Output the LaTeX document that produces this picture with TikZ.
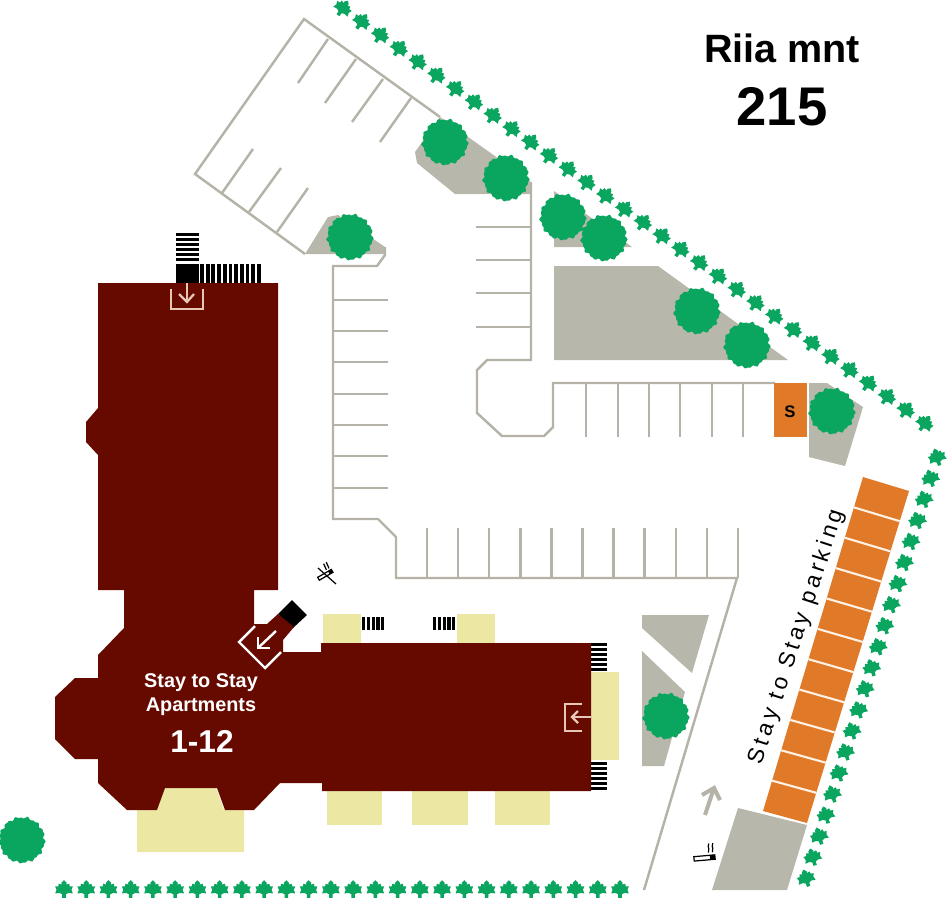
\documentclass[tikz,border=0pt]{standalone}
\usepackage{fontspec}
\setmainfont{Liberation Sans}
\newfontfamily\spacedfont[LetterSpace=17]{Liberation Sans}
\usetikzlibrary{calc}
\definecolor{brickred}{HTML}{660A00}
\definecolor{grassgray}{HTML}{B8B7AB}
\definecolor{roadgray}{HTML}{B5B3A8}
\definecolor{terraceyellow}{HTML}{ECE8A4}
\definecolor{parkorange}{HTML}{E07A28}
\definecolor{treegreen}{HTML}{0AA55F}
\definecolor{doorpink}{HTML}{E8C6B8}
\tikzset{
	grass/.style={fill=grassgray},
	roadline/.style={draw=roadgray,line width=1.4pt,line join=miter},
	terrace/.style={fill=terraceyellow},
	doorline/.style={draw=doorpink,line width=1.3pt},
	iconline/.style={draw=black,line width=.7pt},
	leaf/.pic={
		\fill[treegreen,scale=.88] (0,-10) -- (3,-7) -- (2.5,-5) -- (6,-6) -- (6.5,-3) -- (10,-3) -- (8.5,1) -- (10,5)
			-- (5,4.5) -- (2,6) -- (2,10) -- (-2,10) -- (-2,6) -- (-5,4.5) -- (-10,5) -- (-8.5,1)
			-- (-10,-3) -- (-6.5,-3) -- (-6,-6) -- (-2.5,-5) -- (-3,-7) -- cycle;
	},
	tree/.pic={
		\fill[treegreen] plot[variable=\t,domain=0:360,samples=90] (\t:{22.5+.8*sin(13*\t)+.7*sin(23*\t+40)}) -- cycle;
	},
	cigarette/.pic={
		\draw[iconline] (-10,-2.2) rectangle (11,2.2);
		\fill[black] (6,-2.2) rectangle (11,2.2);
		\draw[iconline] (5,-5) .. controls (7,-8) and (4,-10) .. (6,-14);
		\draw[iconline] (9,-5) .. controls (11,-8) and (8,-10) .. (10,-14);
	}
}
\begin{document}
\begin{tikzpicture}[x=0.02cm,y=-0.02cm]
	\useasboundingbox (0,0) rectangle (947,900);

	% green areas
	\fill[grass] (440,117) -- (530,181) -- (532,194) -- (455,194) -- (417,163) -- (415,152) -- cycle;
	\fill[grass] (305,254) -- (328,217) -- (338,215) -- (385,247) -- (385,254) -- cycle;
	\fill[grass] (554,191) -- (632,247) -- (554,247) -- cycle;
	\fill[grass] (554,266) -- (658,266) -- (788,360) -- (554,360) -- cycle;
	\fill[grass] (809,383) -- (827,383) -- (863,407) -- (845,466) -- (809,457) -- cycle;
	\fill[grass] (642,615) -- (709,615) -- (692,673) -- (642,628) -- cycle;
	\fill[grass] (642,651) -- (685,692) -- (664,766) -- (642,766) -- cycle;
	\fill[grass] (738,808) -- (807,825) -- (787,890) -- (712,890) -- cycle;

	% road lines
	\draw[roadline] (440,117) -- (304,19) -- (195,174) -- (305,254);
	\foreach \xa/\ya/\xb/\yb in {328/39/298/83,356/59/325/103,383/79/352/122,411/98/380/142,
		222/193/253/149,249/212/281/168,277/232/308/188}
		\draw[roadline] (\xa,\ya) -- (\xb,\yb);
	\draw[roadline] (385,247) -- (385,255) -- (377,266) -- (333,266) -- (333,519) -- (378,519)
		-- (396,537) -- (396,578) -- (737,578) -- (644,890);
	\foreach \y in {300,331,362,394,425,456,488}
		\draw[roadline] (333,\y) -- (388,\y);
	\foreach \i in {0,...,10}
		\draw[roadline] (427+31.1*\i,578) -- (427+31.1*\i,528);
	\draw[roadline] (531,182) -- (531,360) -- (487,360) -- (477,370) -- (477,413) -- (502,436)
		-- (544,436) -- (553,427) -- (553,383) -- (775,383);
	\foreach \y in {227,260,293,327}
		\draw[roadline] (476,\y) -- (531,\y);
	\foreach \x in {586,618,649,680,712,743}
		\draw[roadline] (\x,383) -- (\x,437);

	% terraces
	\fill[terrace] (137,810) -- (157,810) -- (164,788) -- (216,788) -- (224,810) -- (244,810) -- (244,852) -- (137,852) -- cycle;
	\fill[terrace] (323,614) rectangle (361,643);
	\fill[terrace] (457,614) rectangle (495,643);
	\fill[terrace] (591,672) rectangle (619,760);
	\fill[terrace] (327,790) rectangle (382,825);
	\fill[terrace] (412,790) rectangle (468,825);
	\fill[terrace] (495,790) rectangle (550,825);

	% stairs
	\foreach \i in {0,...,5}
		\fill[black] (176,233+5*\i) rectangle ++(23,3.4);
	\fill[black] (176,264) rectangle (199,283);
	\foreach \i in {0,...,10}
		\fill[black] (200+5.7*\i,264) rectangle ++(3.8,19);
	\foreach \i in {0,...,4} {
		\fill[black] (362+4.8*\i,617) rectangle ++(3.2,13);
		\fill[black] (433+4.8*\i,617) rectangle ++(3.2,13);
	}
	\foreach \i in {0,...,5} {
		\fill[black] (591,642.5+5*\i) rectangle ++(16,3.4);
		\fill[black] (591,761.5+5*\i) rectangle ++(16,3.4);
	}
	\fill[black] (292,600) -- (307,615) -- (293,628) -- (278,614) -- cycle;

	% building
	\fill[brickred] (98,283) -- (278,283) -- (278,590) -- (254,590) -- (254,624) -- (267,624) -- (278,614)
		-- (294,627) -- (283,640) -- (283,652) -- (321,652) -- (321,643) -- (591,643) -- (591,791) -- (322,791)
		-- (322,783) -- (280,783) -- (254,810) -- (225,810) -- (217,788) -- (165,788) -- (157,810) -- (127,810)
		-- (98,783) -- (98,759) -- (75,759) -- (55,739) -- (55,697) -- (75,678) -- (98,678) -- (98,655)
		-- (124,628) -- (124,590) -- (98,590) -- (98,455) -- (86,442) -- (86,422) -- (98,408) -- cycle;

	% doors
	\draw[doorline] (171,289) -- (171,309) -- (203,309) -- (203,289);
	\draw[doorline] (187,283) -- (187,302);
	\draw[doorline] (179,294) -- (187,302) -- (194,294);
	\draw[doorline] (582,704) -- (565,704) -- (565,731) -- (582,731);
	\draw[doorline] (591,717) -- (572,717);
	\draw[doorline] (578,711) -- (572,717) -- (578,723);
	\draw[white,line width=1.4pt] (255,626) -- (239,642) -- (265,668) -- (281,652);
	\draw[white,line width=1.4pt] (276,631) -- (258,648);
	\draw[white,line width=1.4pt] (258,637) -- (258,648) -- (270,648);

	% parking of the house
	\fill[parkorange] (774,383) rectangle (807,437);
	\coordinate (parkA) at (863,477);
	\coordinate (parkB) at (909,491);
	\coordinate (parkC) at (807,823);
	\coordinate (parkD) at (763,811);
	\fill[parkorange] (parkA) -- (parkB) -- (parkC) -- (parkD) -- cycle;
	\foreach \i in {1,...,10}
		\draw[white!90!orange,line width=1.2pt] ($(parkA)!\i/11!(parkD)$) -- ($(parkB)!\i/11!(parkC)$);

	% trees
	\foreach \px/\py in {445/142,350/237,506/178,563/217,604/238,697/311,747/345,832/411,666/716,22/840}
		\pic at (\px,\py) {tree};

	% hedges
	\foreach \i in {0,...,31}
		\pic[rotate=-35] at (343+18.77*\i,8+13.39*\i) {leaf};
	\foreach \i in {0,...,20}
		\pic[rotate=17] at (937-6.55*\i,457+21.05*\i) {leaf};
	\foreach \i in {0,...,25}
		\pic at (64+22.24*\i,889) {leaf};

	% signs
	\draw[roadgray,line width=2.3pt] (705,815) -- (714,788);
	\draw[roadgray,line width=2.3pt] (702,795) -- (714,788) -- (720,800);
	\pic[rotate=5] at (704,858) {cigarette};
	\pic[rotate=30,scale=.75] at (325,575) {cigarette};
	\draw[iconline] (318,568) -- (336,584);

	% labels
	\node[font=\bfseries\fontsize{22.5}{26}\selectfont] (street) at (782,48) {Riia mnt};
	\node[font=\bfseries\fontsize{31}{36}\selectfont] (number) at (782,107) {215};
	\node[text=white,font=\bfseries\fontsize{11.3}{14}\selectfont] (name1) at (201,683) {Stay to Stay};
	\node[text=white,font=\bfseries\fontsize{11.3}{14}\selectfont] (name2) at (201,707) {Apartments};
	\node[text=white,font=\bfseries\fontsize{18}{20}\selectfont] (flats) at (202,741) {1-12};
	\node[font=\bfseries\fontsize{9.5}{11}\selectfont] (sauna) at (790,412) {S};
	\node[rotate=72,font=\spacedfont\fontsize{13}{15}\selectfont] (parking) at (797,637) {Stay to Stay parking};
\end{tikzpicture}
\end{document}
